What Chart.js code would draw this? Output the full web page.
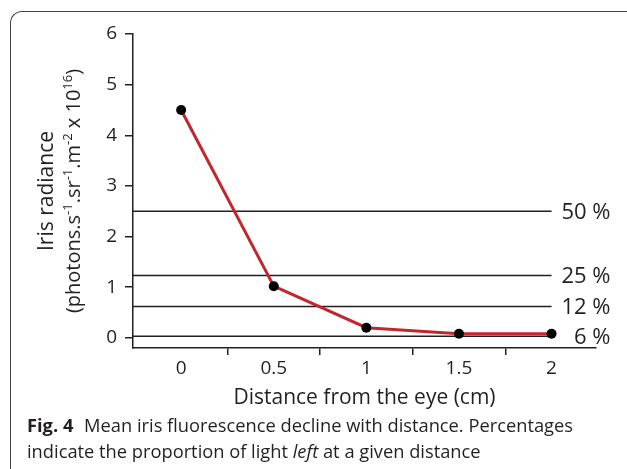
<!DOCTYPE html>
<html>
<head>
<meta charset="utf-8">
<title>Iris radiance vs distance</title>
<script src="https://cdn.jsdelivr.net/npm/chart.js"></script>
<style>
    body {
        margin: 0;
        background: #fff;
        font-family: "Open Sans", sans-serif;
        color: #231f20;
    }
    .figure {
        position: relative;
        width: 627px;
        height: 469px;
        overflow: hidden;
    }
    .frame {
        position: absolute;
        left: 10px;
        top: 11px;
        width: 660px;
        height: 500px;
        border-left: 1.5px solid #444;
        border-top: 1.5px solid #444;
        border-top-left-radius: 12px;
    }
    .chart-box {
        position: absolute;
        left: 0;
        top: 0;
        width: 627px;
        height: 413px;
    }
    .caption {
        position: absolute;
        left: 27px;
        top: 412px;
        width: 590px;
        font-size: 18.3px;
        line-height: 26px;
        color: #231f20;
    }
    .caption b { margin-right: 6px; }
</style>
</head>
<body>
<div class="figure">
    <div class="frame"></div>
    <div class="chart-box">
        <canvas id="radianceChart"></canvas>
    </div>
    <div class="caption">
        <b>Fig. 4</b> Mean iris fluorescence decline with distance. Percentages indicate the proportion of light <i>left</i> at a given distance
    </div>
</div>

<script>
    // distance from the eye (cm) and mean iris radiance (x 10^16)
    const distance = [0, 0.5, 1, 1.5, 2];
    const radiance = [4.5, 1.02, 0.2, 0.08, 0.08];

    // remaining-light levels drawn as horizontal reference lines
    const levelValues = [2.5, 1.23, 0.62, 0.03];
    const levelLabels = ['50 %', '25 %', '12 %', '6 %'];

    // axis ticks
    const xLabelTicks = [0, 0.5, 1, 1.5, 2];
    const xMarkTicks = [0.25, 0.75, 1.25, 1.75];
    const yTicks = [0, 1, 2, 3, 4, 5, 6];

    const X_MIN = -0.26, X_MAX = 2.24;
    const Y_MIN = -0.2, Y_MAX = 6;
    const INK = '#231f20';
    const FONT = '"Open Sans", sans-serif';

    const levelSets = levelValues.map(v => ({
        data: [{x: X_MIN, y: v}, {x: 2, y: v}],
        borderColor: INK,
        borderWidth: 1.5,
        pointRadius: 0,
        order: 2
    }));

    // percentage labels, right-aligned past the end of each reference line
    const levelLabelPlugin = {
        id: 'levelLabels',
        afterDatasetsDraw(chart) {
            const {ctx, scales: {x, y}} = chart;
            ctx.save();
            ctx.font = '22px ' + FONT;
            ctx.fillStyle = INK;
            ctx.textBaseline = 'middle';
            ctx.textAlign = 'right';
            levelValues.forEach((v, i) => {
                ctx.fillText(levelLabels[i], x.getPixelForValue(2) + 59, y.getPixelForValue(v) + 1);
            });
            ctx.restore();
        }
    };

    // two-line rotated y title with superscripts
    const yTitlePlugin = {
        id: 'yTitle',
        afterDraw(chart) {
            const {ctx, chartArea} = chart;
            const cy = (chartArea.top + chartArea.bottom) / 2;
            ctx.save();
            ctx.fillStyle = INK;
            ctx.textBaseline = 'alphabetic';

            ctx.save();
            ctx.translate(53, cy);
            ctx.rotate(-Math.PI / 2);
            ctx.font = '21px ' + FONT;
            ctx.textAlign = 'center';
            ctx.fillText('Iris radiance', 0, 0);
            ctx.restore();

            const parts = [
                ['(photons.s', false], ['-1', true], ['.sr', false], ['-1', true],
                ['.m', false], ['-2', true], [' x 10', false], ['16', true], [')', false]
            ];
            const big = '20px ' + FONT, small = '13px ' + FONT;
            let total = 0;
            parts.forEach(([t, sup]) => {
                ctx.font = sup ? small : big;
                total += ctx.measureText(t).width;
            });
            ctx.translate(80, cy);
            ctx.rotate(-Math.PI / 2);
            ctx.textAlign = 'left';
            let pos = -total / 2;
            parts.forEach(([t, sup]) => {
                ctx.font = sup ? small : big;
                ctx.fillText(t, pos, sup ? -8 : 0);
                pos += ctx.measureText(t).width;
            });
            ctx.restore();
        }
    };

    new Chart(document.getElementById('radianceChart'), {
        type: 'line',
        data: {
            datasets: [{
                data: distance.map((d, i) => ({x: d, y: radiance[i]})),
                borderColor: '#c1272d',
                borderWidth: 3,
                pointRadius: 5,
                pointBackgroundColor: '#000',
                pointBorderWidth: 0,
                order: 1
            }, ...levelSets]
        },
        options: {
            responsive: true,
            maintainAspectRatio: false,
            animation: false,
            layout: { padding: { top: 34, right: 31, left: 0, bottom: 0 } },
            plugins: {
                legend: { display: false },
                tooltip: { enabled: false }
            },
            scales: {
                x: {
                    type: 'linear',
                    min: X_MIN,
                    max: X_MAX,
                    afterBuildTicks: s => {
                        s.ticks = [...xLabelTicks, ...xMarkTicks].sort((a, b) => a - b).map(v => ({value: v}));
                    },
                    afterFit: s => { s.height = 65; },
                    border: { color: INK, width: 1.5 },
                    grid: {
                        drawOnChartArea: false,
                        tickLength: 7,
                        lineWidth: 1.5,
                        tickColor: c => xMarkTicks.includes(c.tick && c.tick.value) ? INK : 'rgba(0,0,0,0)'
                    },
                    ticks: {
                        autoSkip: false,
                        maxRotation: 0,
                        padding: 2,
                        color: INK,
                        font: { family: FONT, size: 19 },
                        callback: v => xLabelTicks.includes(v) ? String(v) : ''
                    },
                    title: {
                        display: true,
                        text: 'Distance from the eye (cm)',
                        color: INK,
                        font: { family: FONT, size: 21 },
                        padding: { top: 0, bottom: 2 }
                    }
                },
                y: {
                    min: Y_MIN,
                    max: Y_MAX,
                    afterBuildTicks: s => { s.ticks = yTicks.map(v => ({value: v})); },
                    afterFit: s => { s.width = 133; },
                    border: { color: INK, width: 1.5 },
                    grid: {
                        drawOnChartArea: false,
                        tickLength: 8,
                        lineWidth: 1.5,
                        tickColor: INK
                    },
                    ticks: {
                        padding: 8,
                        color: INK,
                        font: { family: FONT, size: 19 }
                    }
                }
            }
        },
        plugins: [levelLabelPlugin, yTitlePlugin]
    });
</script>
</body>
</html>
